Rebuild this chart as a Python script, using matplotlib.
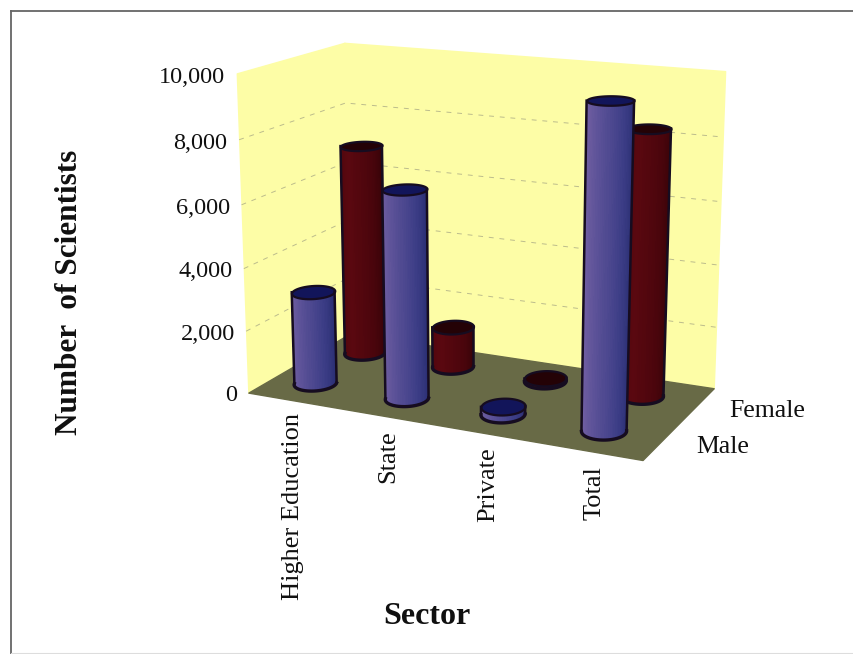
import numpy as np
import matplotlib
matplotlib.use('Agg')
import matplotlib.pyplot as plt
from matplotlib.lines import Line2D
from mpl_toolkits.mplot3d import proj3d
from mpl_toolkits.mplot3d.art3d import Poly3DCollection

plt.rcParams['font.family'] = ['Liberation Serif', 'DejaVu Serif']

sectors = ["Higher Education", "State", "Private", "Total"]
series_names = ["Male", "Female"]
male = [3000, 6600, 250, 9800]
female = [7000, 1350, 100, 8400]
z_ticks = [0, 2000, 4000, 6000, 8000, 10000]

ELEV = 15
AZIM = -65
BOX = (430, 215, 332)
RX = 0.2
RY = 0.225

BLUE = ['#7a64a6', '#5c5298', '#3c3d86', '#22286a']
BLUE_TOP = '#12155a'
RED = ['#4c060c', '#5a0810', '#4a050c', '#300206']
RED_TOP = '#240206'
EDGE = '#160c20'
INK = '#101010'


def mix(stops, n):
    pos = np.linspace(0, 1, len(stops))
    rgb = np.array([matplotlib.colors.to_rgb(c) for c in stops])
    t = np.linspace(0, 1, n)
    return np.stack([np.interp(t, pos, rgb[:, k]) for k in range(3)], axis=1)


def cylinder(ax, cx, cy, h, stops, top_color, z):
    # only the half facing the camera is drawn, the order is set by hand
    th = np.radians(np.linspace(AZIM - 90, AZIM + 90, 40))
    xs = cx + RX * np.cos(th)
    ys = cy + RY * np.sin(th)
    X = np.stack([xs, xs])
    Y = np.stack([ys, ys])
    Z = np.stack([np.zeros_like(xs), np.full_like(xs, h)])
    cols = mix(stops, 40)
    fc = np.stack([cols, cols])
    surf = ax.plot_surface(X, Y, Z, facecolors=fc, shade=False, rstride=1, cstride=1,
                           linewidth=0, antialiased=False)
    surf.set_zorder(z)
    ring = np.radians(np.linspace(0, 360, 60))
    rx = cx + RX * np.cos(ring)
    ry = cy + RY * np.sin(ring)
    top = Poly3DCollection([list(zip(rx, ry, np.full_like(rx, h)))], facecolor=top_color,
                           edgecolor=EDGE, linewidth=1.6)
    ax.add_collection3d(top)
    top.set_zorder(z + 0.1)
    ax.plot(xs, ys, np.zeros_like(xs), color=EDGE, lw=2.4, zorder=z + 0.2)
    ax.plot([xs[0], xs[0]], [ys[0], ys[0]], [0, h], color=EDGE, lw=1.8, zorder=z + 0.2)
    ax.plot([xs[-1], xs[-1]], [ys[-1], ys[-1]], [0, h], color=EDGE, lw=1.8, zorder=z + 0.2)


def main():
    fig = plt.figure(figsize=(8.54, 6.54), dpi=100)
    ax = fig.add_axes([46 / 854, 83 / 654, 1.0, 1.0], projection='3d', computed_zorder=False)
    ax.set_proj_type('persp', focal_length=0.5)
    ax.view_init(elev=ELEV, azim=AZIM)
    ax.set_box_aspect(BOX, zoom=0.86)
    nx = len(sectors)
    ny = len(series_names)
    zmax = z_ticks[-1]
    ax.set_xlim(0, nx)
    ax.set_ylim(0, ny)
    ax.set_zlim(0, zmax)
    ax.set_xticks([])
    ax.set_yticks([])
    ax.set_zticks([])
    ax.set_axis_off()

    yellow = '#fdfda6'
    left = Poly3DCollection([[(0, 0, 0), (0, ny, 0), (0, ny, zmax), (0, 0, zmax)]], facecolor=yellow, edgecolor=yellow)
    back = Poly3DCollection([[(0, ny, 0), (nx, ny, 0), (nx, ny, zmax), (0, ny, zmax)]], facecolor=yellow, edgecolor=yellow)
    floor = Poly3DCollection([[(0, 0, 0), (nx, 0, 0), (nx, ny, 0), (0, ny, 0)]], facecolor='#686a46', edgecolor='#686a46')
    for p in [left, back, floor]:
        ax.add_collection3d(p)
        p.set_zorder(1)

    for t in z_ticks[1:-1]:
        ax.plot([0, 0, nx], [0, ny, ny], [t, t, t], color='#bcbc8c', lw=0.7, ls=(0, (5, 6)), zorder=2)

    for t in z_ticks:
        ax.text(-0.13, 0, t - 150, f"{t:,}", ha='right', va='center', fontsize=17.5, color=INK, zorder=50)

    # category names stay upright, so they are placed in 2d under the floor edge
    proj = ax.get_proj()
    for i, name in enumerate(sectors):
        px, py, _ = proj3d.proj_transform(i + 0.67, -0.3, 0, proj)
        ax.text2D(px, py, name, rotation=90, ha='center', va='top', fontsize=19,
                  color=INK, zorder=50, transform=ax.transData)

    ax.text(nx + 0.28, 0.62, -180, series_names[0], ha='left', va='center', fontsize=18.5, color=INK, zorder=50)
    ax.text(nx + 0.28, 1.62, -180, series_names[1], ha='left', va='center', fontsize=18.5, color=INK, zorder=50)

    z = 10
    for i, h in enumerate(female):
        cylinder(ax, i + 0.45, 1.5, h, RED, RED_TOP, z)
        z += 1
    for i, h in enumerate(male):
        cylinder(ax, i + 0.45, 0.5, h, BLUE, BLUE_TOP, z)
        z += 1

    fig.text(70 / 854, 1 - 292 / 654, "Number  of Scientists", rotation=90, ha='center', va='center',
             fontsize=22.5, fontweight='bold', color=INK)
    fig.text(427 / 854, 1 - 617 / 654, "Sector", ha='center', va='center',
             fontsize=23, fontweight='bold', color=INK)

    # scanned frame: only the top and left rules survive, the bottom one is faint
    fig.add_artist(Line2D([11 / 854, 1], [1 - 11 / 654, 1 - 11 / 654], color='#666666', lw=1.3))
    fig.add_artist(Line2D([11 / 854, 11 / 854], [1 - 11 / 654, 0], color='#666666', lw=1.3))
    fig.add_artist(Line2D([11 / 854, 1], [1 / 654, 1 / 654], color='#dddddd', lw=0.8))

    fig.savefig('out.png', dpi=100)


if __name__ == "__main__":
    main()
